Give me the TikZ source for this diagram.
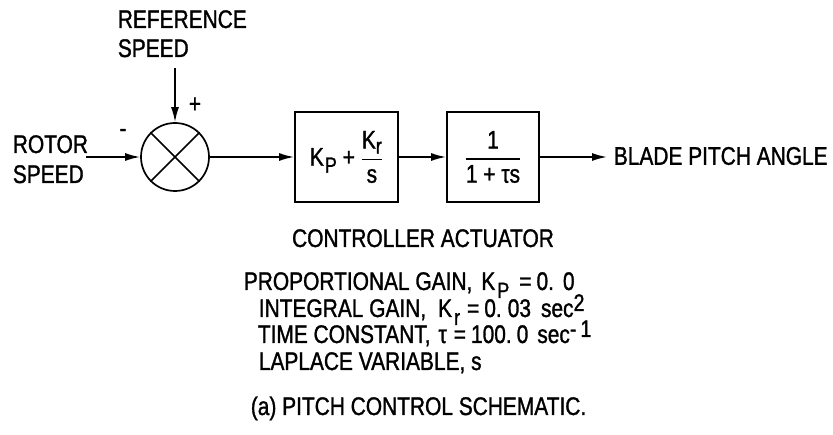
\documentclass[tikz,border=0pt]{standalone}
\usepackage{amsmath}
\usepackage{fontspec}
\setmainfont{Liberation Sans}[FakeStretch=0.82,FakeBold=1.2]
\usetikzlibrary{arrows.meta}
\newcommand\lsub[2][8pt]{\raisebox{-#1}{\fontsize{22}{22}\selectfont #2}}
\newcommand\lsup[1]{\raisebox{6pt}{\fontsize{24}{24}\selectfont #1}}
\tikzset{
  lbl/.style={inner sep=0pt, font=\fontsize{25.5}{30}\selectfont, text=black},
  arr/.style={-{Latex[length=15pt,width=8pt]}},
  blk/.style={draw, minimum height=90pt, inner sep=0pt, font=\fontsize{25.5}{30}\selectfont},
}
\begin{document}
\begin{tikzpicture}[x=1pt,y=-1pt,line width=1.7pt]
\useasboundingbox (0,0) rectangle (833,435);
% summing junction
\node[circle,draw,minimum size=68pt,inner sep=0pt] (sum) at (175,157) {};
\draw (sum.north west) -- (sum.south east);
\draw (sum.north east) -- (sum.south west);
% inputs
\node[lbl,anchor=base west] (ref1) at (117,28) {REFERENCE};
\node[lbl,anchor=base west] (ref2) at (117,57) {SPEED};
\node[lbl,anchor=base west] (rot1) at (12,153) {ROTOR};
\node[lbl,anchor=base west] (rot2) at (12,183) {SPEED};
\coordinate (reftop) at (175,68);
\coordinate (rin) at (86,157);
\draw[arr] (reftop) -- (sum.north);
\draw[arr] (rin) -- (sum.west);
\node[lbl] (plus) at (195,105) {+};
\node[lbl] (minus) at (123,133) {-};
% blocks
\node[blk,minimum width=103pt] (b1) at (346.5,157)
  {K\hspace{1pt}\lsub[7pt]{P} + $\genfrac{}{}{1.7pt}{0}{\hbox{K\lsub[5pt]{r}}}{\hbox{s}}$};
\node[blk,minimum width=92pt] (b2) at (493,157)
  {$\genfrac{}{}{1.7pt}{0}{\hbox{1}}{\hbox{1 + τs}}$};
\draw[arr] (sum.east) -- (b1.west);
\draw[arr] (b1.east) -- (b2.west);
\node[lbl,anchor=west,inner xsep=6pt] (out) at (607,156) {BLADE PITCH ANGLE};
\draw[arr] (b2.east) -- (b2.east -| out.west);
% texts
\node[lbl,anchor=base] (ca) at (423,247) {CONTROLLER ACTUATOR};
\node[lbl,anchor=base west] (p1) at (243,290)
  {PROPORTIONAL GAIN,\hspace{9pt}K\hspace{2pt}\lsub{P}\hspace{10pt}=\hspace{5pt}0.\hspace{9pt}0};
\node[lbl,anchor=base west] (p2) at (258,317)
  {INTEGRAL GAIN,\hspace{12pt}K\hspace{2pt}\lsub{r}\hspace{7pt}=\hspace{5pt}0.\hspace{6pt}03\hspace{10pt}sec\lsup{2}};
\node[lbl,anchor=base west] (p3) at (257,343)
  {TIME CONSTANT,\hspace{8pt}τ\hspace{7pt}=\hspace{5pt}100.\hspace{5pt}0\hspace{9pt}sec\lsup{-\hspace{4pt}1}};
\node[lbl,anchor=base west] (p4) at (258,370) {LAPLACE VARIABLE, s};
\node[lbl,anchor=base west] (cap) at (250,415) {(a) PITCH CONTROL SCHEMATIC.};
\end{tikzpicture}
\end{document}
